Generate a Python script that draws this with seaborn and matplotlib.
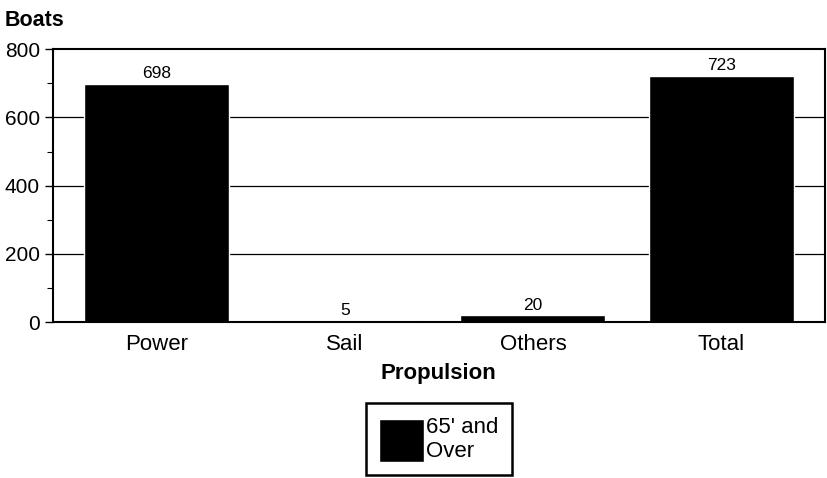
import matplotlib
matplotlib.use("Agg")
import matplotlib.pyplot as plt
import seaborn as sns
import pandas as pd
from matplotlib.ticker import MultipleLocator

categories = ['Power', 'Sail', 'Others', 'Total']
boats = [698, 5, 20, 723]
series_name = "65' and\nOver"

df = pd.DataFrame({'Propulsion': categories, 'Boats': boats})

sns.set_style('white')
plt.rcParams['font.family'] = ['Liberation Sans', 'DejaVu Sans']
plt.rcParams['text.color'] = 'black'
plt.rcParams['axes.labelcolor'] = 'black'
plt.rcParams['xtick.color'] = 'black'
plt.rcParams['ytick.color'] = 'black'

fig = plt.figure(figsize=(8.28, 4.78), dpi=100)
ax = fig.add_axes([0.064, 0.326, 0.932, 0.571])

for y in [200, 400, 600]:
    ax.axhline(y, color='black', lw=0.9, zorder=0)

sns.barplot(data=df, x='Propulsion', y='Boats', color='black', width=0.77,
            saturation=1, ax=ax, label=series_name, zorder=2)

for i, v in enumerate(boats):
    ax.text(i, v + 8, str(v), ha='center', va='bottom', fontsize=12.5)

ax.set_xlim(-0.55, 3.55)
ax.set_ylim(0, 800)
ax.yaxis.set_major_locator(MultipleLocator(200))
ax.yaxis.set_minor_locator(MultipleLocator(100))
ax.tick_params(axis='y', which='major', left=True, length=6, width=1,
               labelsize=15, direction='out')
ax.tick_params(axis='y', which='minor', left=True, length=4, width=0.8,
               direction='out')
ax.tick_params(axis='x', bottom=False, labelsize=16, pad=5)
for s in ax.spines.values():
    s.set_color('black')
    s.set_linewidth(1.5)

ax.set_ylabel('')
ax.set_xlabel('Propulsion', fontsize=16, fontweight='bold', labelpad=6)
fig.text(0.006, 0.935, 'Boats', fontsize=15.5, fontweight='bold', ha='left', va='bottom')

leg = ax.legend(loc='upper center', bbox_to_anchor=(0.5, -0.297), frameon=True,
                fontsize=16, handlelength=2.0, handleheight=2.6,
                handletextpad=0.1, borderpad=0.6, borderaxespad=0,
                fancybox=False, labelspacing=0.1)
leg.get_frame().set_edgecolor('black')
leg.get_frame().set_linewidth(1.8)
leg.get_frame().set_alpha(1)

fig.savefig('out.png', dpi=100)
